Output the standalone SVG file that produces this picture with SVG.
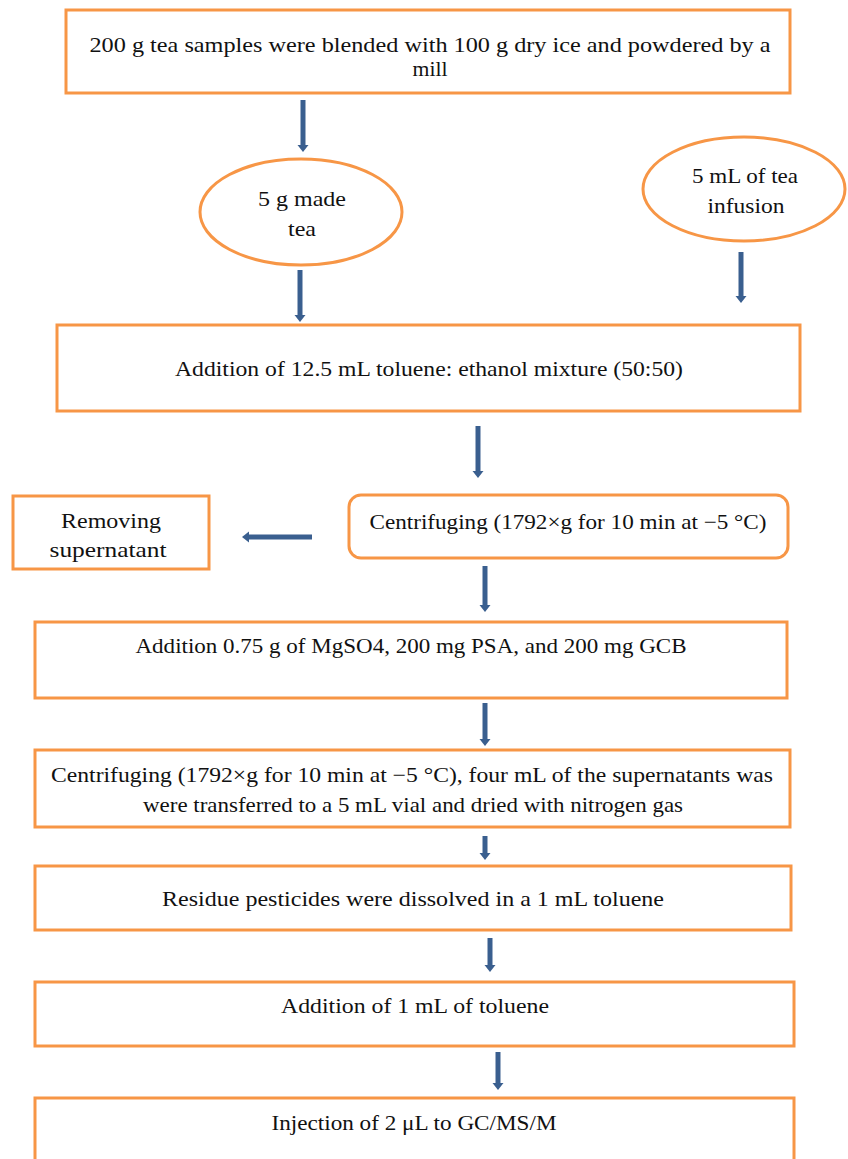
<svg xmlns="http://www.w3.org/2000/svg" width="848" height="1159" viewBox="0 0 848 1159">
<defs>
<style>
.n{fill:#fff;stroke:#F79646;stroke-width:3}
.t{font-family:"Liberation Serif","DejaVu Serif",serif;font-size:21px;fill:#111;text-anchor:middle}
.a{stroke:#3A5F8F;stroke-width:5;fill:none}
</style>
<marker id="h" markerUnits="userSpaceOnUse" markerWidth="12" markerHeight="12" refX="1" refY="6" orient="auto">
<path d="M1,0.5 L8,6 L1,11.5 Z" fill="#3A5F8F"/>
</marker>
</defs>
<rect width="848" height="1159" fill="#fff"/>
<g id="connectors">
<line class="a" x1="303" y1="100" x2="303" y2="145" marker-end="url(#h)"/>
<line class="a" x1="300" y1="270" x2="300" y2="315" marker-end="url(#h)"/>
<line class="a" x1="741" y1="252" x2="741" y2="296" marker-end="url(#h)"/>
<line class="a" x1="478" y1="426" x2="478" y2="471" marker-end="url(#h)"/>
<line class="a" x1="312" y1="537" x2="249" y2="537" marker-end="url(#h)"/>
<line class="a" x1="485" y1="566" x2="485" y2="605" marker-end="url(#h)"/>
<line class="a" x1="485" y1="703" x2="485" y2="739" marker-end="url(#h)"/>
<line class="a" x1="485" y1="836" x2="485" y2="853" marker-end="url(#h)"/>
<line class="a" x1="490" y1="938" x2="490" y2="965" marker-end="url(#h)"/>
<line class="a" x1="498" y1="1052" x2="498" y2="1083" marker-end="url(#h)"/>
</g>
<g id="n1">
<rect class="n" x="66" y="10" width="724" height="83"/>
<text class="t" x="430" y="52" textLength="681" lengthAdjust="spacingAndGlyphs">200 g tea samples were blended with 100 g dry ice and powdered by a</text>
<text class="t" x="430" y="76" textLength="35" lengthAdjust="spacingAndGlyphs">mill</text>
</g>
<g id="n2">
<ellipse class="n" cx="301" cy="212" rx="101" ry="53"/>
<text class="t" x="302" y="206" textLength="88" lengthAdjust="spacingAndGlyphs">5 g made</text>
<text class="t" x="302" y="236" textLength="28" lengthAdjust="spacingAndGlyphs">tea</text>
</g>
<g id="n3">
<ellipse class="n" cx="744" cy="189" rx="101" ry="52"/>
<text class="t" x="745" y="183" textLength="106" lengthAdjust="spacingAndGlyphs">5 mL of tea</text>
<text class="t" x="746" y="213" textLength="77" lengthAdjust="spacingAndGlyphs">infusion</text>
</g>
<g id="n4">
<rect class="n" x="57" y="325" width="743" height="86"/>
<text class="t" x="429" y="376" textLength="508" lengthAdjust="spacingAndGlyphs">Addition of 12.5 mL toluene: ethanol mixture (50:50)</text>
</g>
<g id="n5">
<rect class="n" x="349" y="495" width="439" height="63" rx="12"/>
<text class="t" x="568" y="529" textLength="397" lengthAdjust="spacingAndGlyphs">Centrifuging (1792×g for 10 min at −5 °C)</text>
</g>
<g id="n6">
<rect class="n" x="13" y="496" width="196" height="73"/>
<text class="t" x="111" y="528" textLength="100" lengthAdjust="spacingAndGlyphs">Removing</text>
<text class="t" x="108" y="557" textLength="117" lengthAdjust="spacingAndGlyphs">supernatant</text>
</g>
<g id="n7">
<rect class="n" x="35" y="622" width="752" height="76"/>
<text class="t" x="411" y="653" textLength="551" lengthAdjust="spacingAndGlyphs">Addition 0.75 g of MgSO4, 200 mg PSA, and 200 mg GCB</text>
</g>
<g id="n8">
<rect class="n" x="35" y="750" width="755" height="77"/>
<text class="t" x="412" y="782" textLength="722" lengthAdjust="spacingAndGlyphs">Centrifuging (1792×g for 10 min at −5 °C), four mL of the supernatants was</text>
<text class="t" x="413" y="812" textLength="540" lengthAdjust="spacingAndGlyphs">were transferred to a 5 mL vial and dried with nitrogen gas</text>
</g>
<g id="n9">
<rect class="n" x="35" y="866" width="756" height="64"/>
<text class="t" x="413" y="906" textLength="502" lengthAdjust="spacingAndGlyphs">Residue pesticides were dissolved in a 1 mL toluene</text>
</g>
<g id="n10">
<rect class="n" x="35" y="982" width="759" height="64"/>
<text class="t" x="415" y="1013" textLength="268" lengthAdjust="spacingAndGlyphs">Addition of 1 mL of toluene</text>
</g>
<g id="n11">
<rect class="n" x="35" y="1098" width="759" height="80"/>
<text class="t" x="414" y="1130" textLength="285" lengthAdjust="spacingAndGlyphs">Injection of 2 μL to GC/MS/M</text>
</g>
</svg>
